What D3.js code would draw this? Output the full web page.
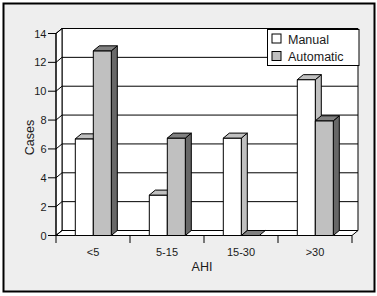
<!DOCTYPE html>
<html>
<head>
<meta charset="utf-8">
<script src="https://cdn.jsdelivr.net/npm/d3@7"></script>
<style>
  body { margin: 0; background: #fff; }
  text { font-family: "Liberation Sans", Arial, sans-serif; fill: #1a1a1a; }
</style>
</head>
<body>
<div id="chart"></div>
<script>
const categories = ["<5", "5-15", "15-30", ">30"];
const series = ["Manual", "Automatic"];
const manual = [6.7, 2.8, 6.75, 10.8];
const automatic = [12.8, 6.75, 0, 7.95];
const yTicks = [0, 2, 4, 6, 8, 10, 12, 14];

const width = 377, height = 296;
const depthX = 6, depthY = -5;

// colours per series: front, top, side
const colors = {
	Manual: { front: "#ffffff", top: "#c0c0c0", side: "#c0c0c0" },
	Automatic: { front: "#c0c0c0", top: "#808080", side: "#686868" }
};

const svg = d3.select("#chart")
	.append("svg")
		.attr("width", width)
		.attr("height", height);

// outer frame
svg.append("rect")
	.attr("x", 3.5).attr("y", 3.5)
	.attr("width", 371).attr("height", 288)
	.style("fill", "#eeeeee")
	.style("stroke", "#000")
	.style("stroke-width", 2);

const x = d3.scaleBand()
	.domain(categories)
	.range([56, 352]);
const xInner = d3.scaleBand()
	.domain(series)
	.range([19.3, 55.3]);
const y = d3.scaleLinear()
	.domain([0, 14])
	.range([235.5, 33.5]);

const x0 = x.range()[0], x1 = x.range()[1];
const yBottom = y(0), yTop = y(14);

// walls and floor
const walls = svg.append("g");
walls.append("path") // back wall
	.attr("d", `M${x0 + depthX},${yTop + depthY}H${x1 + depthX}V${yBottom + depthY}H${x0 + depthX}Z`)
	.style("fill", "#fff").style("stroke", "#000");
walls.append("path") // side wall
	.attr("d", `M${x0},${yTop}L${x0 + depthX},${yTop + depthY}V${yBottom + depthY}L${x0},${yBottom}Z`)
	.style("fill", "#fff").style("stroke", "#000");
walls.append("path") // floor
	.attr("d", `M${x0},${yBottom}H${x1}L${x1 + depthX},${yBottom + depthY}H${x0 + depthX}Z`)
	.style("fill", "#fff").style("stroke", "#000");

// gridlines (diagonal on side wall, then across back wall)
walls.selectAll(".grid")
	.data(yTicks)
	.enter()
	.append("path")
		.attr("d", (d) => `M${x0},${y(d)}L${x0 + depthX},${y(d) + depthY}H${x1 + depthX}`)
		.style("fill", "none")
		.style("stroke", "#000");

// y axis
const yAxis = svg.append("g");
yAxis.append("line")
	.attr("x1", x0).attr("x2", x0)
	.attr("y1", yTop).attr("y2", yBottom)
	.style("stroke", "#000");
yAxis.selectAll(".tick")
	.data(yTicks)
	.enter()
	.append("line")
		.attr("x1", x0 - 8).attr("x2", x0)
		.attr("y1", (d) => y(d)).attr("y2", (d) => y(d))
		.style("stroke", "#000");
yAxis.selectAll(".label")
	.data(yTicks)
	.enter()
	.append("text")
		.text((d) => d)
		.attr("x", x0 - 9.5)
		.attr("y", (d) => y(d) + 4)
		.attr("text-anchor", "end")
		.style("font-size", "11px");

svg.append("text")
	.text("Cases")
	.attr("transform", "translate(33.5,137.5) rotate(-90)")
	.attr("text-anchor", "middle")
	.style("font-size", "12.5px");

// x axis
const xAxis = svg.append("g");
const edges = categories.map((c) => x(c)).concat([x1]);
xAxis.selectAll(".tick")
	.data(edges)
	.enter()
	.append("line")
		.attr("x1", (d) => d).attr("x2", (d) => d)
		.attr("y1", yBottom).attr("y2", yBottom + 7.5)
		.style("stroke", "#000");
xAxis.selectAll(".label")
	.data(categories)
	.enter()
	.append("text")
		.text((d) => d)
		.attr("x", (d) => x(d) + x.bandwidth() / 2)
		.attr("y", 255.5)
		.attr("text-anchor", "middle")
		.style("font-size", "11px");

svg.append("text")
	.text("AHI")
	.attr("x", 202)
	.attr("y", 270.5)
	.attr("text-anchor", "middle")
	.style("font-size", "12.5px");

// bars
const bars = [];
categories.forEach((c, i) => {
	bars.push({ cat: c, key: "Manual", val: manual[i] });
	bars.push({ cat: c, key: "Automatic", val: automatic[i] });
});

const barG = svg.append("g");
bars.forEach((d) => {
	const bx0 = x(d.cat) + xInner(d.key);
	const bx1 = bx0 + xInner.bandwidth();
	const by = y(d.val);
	const col = colors[d.key];
	const g = barG.append("g")
		.style("stroke", "#000")
		.style("stroke-linejoin", "miter");
	if (d.val > 0) {
		g.append("path") // side
			.attr("d", `M${bx1},${by}L${bx1 + depthX},${by + depthY}V${yBottom + depthY}L${bx1},${yBottom}Z`)
			.style("fill", col.side);
		g.append("path") // front
			.attr("d", `M${bx0},${by}H${bx1}V${yBottom}H${bx0}Z`)
			.style("fill", col.front);
	}
	g.append("path") // top
		.attr("d", `M${bx0},${by}H${bx1}L${bx1 + depthX},${by + depthY}H${bx0 + depthX}Z`)
		.style("fill", col.top);
});

// legend
const legend = svg.append("g").attr("transform", "translate(267.5,29.5)");
legend.append("rect")
	.attr("width", 91.5).attr("height", 36)
	.style("fill", "#fff")
	.style("stroke", "#000");
series.forEach((s, i) => {
	legend.append("rect")
		.attr("x", 4.5).attr("y", 4.5 + i * 17.5)
		.attr("width", 9).attr("height", 9)
		.style("fill", colors[s].front)
		.style("stroke", "#000");
	legend.append("text")
		.text(s)
		.attr("x", 20.5)
		.attr("y", 14 + i * 17.5)
		.style("font-size", "12.5px");
});
</script>
</body>
</html>
